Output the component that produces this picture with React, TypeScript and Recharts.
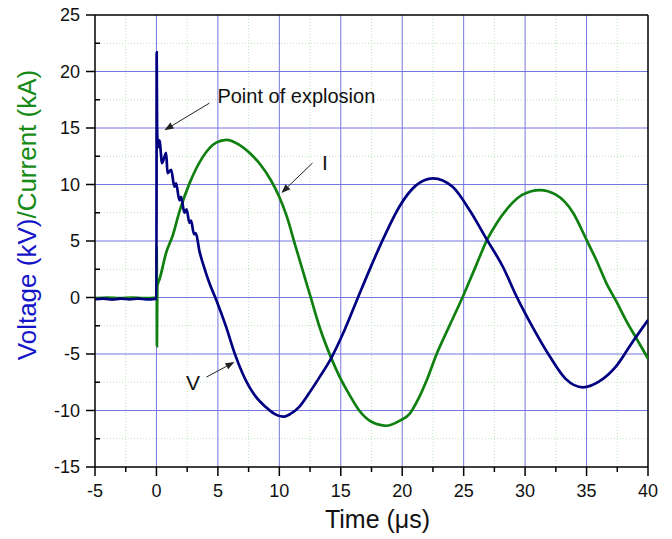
import { Line, LineChart, ReferenceDot, ReferenceLine, XAxis, YAxis } from "recharts";

// time axis (µs) and tick positions
const xTicks = [-5, -2.5, 0, 2.5, 5, 7.5, 10, 12.5, 15, 17.5, 20, 22.5, 25, 27.5, 30, 32.5, 35, 37.5, 40];
const yTicks = [-15, -12.5, -10, -7.5, -5, -2.5, 0, 2.5, 5, 7.5, 10, 12.5, 15, 17.5, 20, 22.5, 25];

// voltage trace (kV)
const vTime = [
  -5, -4.3, -3.6, -2.9, -2.2, -1.5, -0.8, -0.1, 0, 0.02, 0.05, 0.12, 0.24, 0.46, 0.79, 0.9, 1.2, 1.46, 1.6, 1.87, 2.0,
  2.28, 2.45, 2.69, 2.82, 3.05, 3.2, 3.5, 3.9, 4.3, 4.86, 5.67, 6.35, 7.0, 7.5, 8.1, 8.9, 9.6, 10.3, 10.9, 11.6, 12.4,
  13.3, 14.2, 15.3, 16.4, 17.4, 18.5, 19.8, 21.1, 22.5, 24.1, 25.5, 26.9, 28.2, 29.3, 30.6, 32.0, 33.3, 34.7, 36.0,
  37.4, 38.7, 40,
];
const vVolt = [
  -0.15, -0.1, -0.18, -0.1, -0.16, -0.1, -0.17, -0.12, -0.1, 21.7, 15.2, 13.3, 13.9, 11.9, 12.8, 11.0, 11.3, 9.8, 10.1,
  8.6, 8.9, 7.5, 7.8, 6.6, 6.8, 5.6, 5.7, 4.1, 2.6, 1.3, -0.2, -2.6, -4.9, -6.7, -7.8, -8.8, -9.7, -10.3, -10.55, -10.3,
  -9.7, -8.5, -7.0, -5.4, -2.9, 0, 2.6, 5.3, 8.1, 9.9, 10.55, 9.8, 7.7, 5.1, 2.7, 0.1, -2.6, -5.2, -7.2, -7.95, -7.45,
  -6.1, -4.0, -2.0,
];

// current trace (kA)
const iTime = [
  -5, -4, -3, -2, -1, 0, 0.02, 0.04, 0.07, 0.25, 0.8, 1.33, 1.87, 2.69, 3.75, 4.86, 5.7, 6.75, 7.57, 8.5, 9.3, 10.0,
  10.6, 11.3, 12.2, 12.5, 13.3, 14.2, 14.9, 15.7, 16.5, 17.5, 18.7, 19.8, 20.6, 21.3, 22.0, 22.8, 23.8, 24.9, 26.0,
  26.9, 27.7, 28.5, 29.8, 31.2, 32.5, 33.9, 35.0, 35.8, 36.6, 37.4, 38.2, 39.1, 40,
];
const iCurrent = [
  -0.05, 0, -0.05, 0, -0.05, 0, 4.5, -4.3, 1.0, 1.6, 4.0, 5.5, 7.6, 10.1, 12.4, 13.7, 13.95, 13.5, 12.8, 11.7, 10.4,
  8.9, 7.2, 4.6, 1.3, 0.2, -2.7, -5.3, -7.0, -8.6, -10.0, -11.0, -11.35, -10.9, -10.3, -9.0, -7.3, -5.0, -2.6, 0, 2.8,
  5.1, 6.6, 7.8, 9.1, 9.5, 9.1, 7.5, 5.1, 3.3, 1.3, -0.3, -2.0, -3.7, -5.4,
];

const voltageData = vTime.map((t, i) => ({ t, v: vVolt[i] }));
const currentData = iTime.map((t, i) => ({ t, c: iCurrent[i] }));

const isMajor = (v: number) => v % 5 === 0;

// annotation arrows (data coords: tail, head)
const explosionArrow = [{ x: 4.31, y: 17.2 }, { x: 0.65, y: 14.8 }];
const currentArrow = [{ x: 12.7, y: 11.9 }, { x: 10.17, y: 9.25 }];
const voltageArrow = [{ x: 4.07, y: -7.04 }, { x: 6.35, y: -5.71 }];

const FONT = '"Liberation Sans", Arial, Helvetica, sans-serif';
const VOLT_COLOR = "#000080";
const CURR_COLOR = "#0f800f";

function Arrow(props: any) {
  const { x1, y1, x2, y2 } = props;
  const a = Math.atan2(y2 - y1, x2 - x1);
  const len = 9;
  const half = 3.5;
  const bx = x2 - len * Math.cos(a);
  const by = y2 - len * Math.sin(a);
  const px = half * Math.sin(a);
  const py = -half * Math.cos(a);
  return (
    <g>
      <line x1={x1} y1={y1} x2={bx} y2={by} stroke="#222" strokeWidth={1} />
      <polygon points={`${x2},${y2} ${bx + px},${by + py} ${bx - px},${by - py}`} fill="#222" />
    </g>
  );
}

function XTick(props: any) {
  const { x, y, payload } = props;
  const major = isMajor(payload.value);
  return (
    <g>
      <line x1={x} x2={x} y1={y} y2={y + (major ? 9 : 5)} stroke="#000" strokeWidth={1.5} />
      {major && (
        <text x={x} y={y + 30} textAnchor="middle" fontFamily={FONT} fontSize={18} fill="#111">
          {payload.value}
        </text>
      )}
    </g>
  );
}

function YTick(props: any) {
  const { x, y, payload } = props;
  const major = isMajor(payload.value);
  return (
    <g>
      <line x1={x} x2={major ? x - 9 : x + 5} y1={y} y2={y} stroke="#000" strokeWidth={1.5} />
      {major && (
        <text x={x - 15} y={y} dy="0.35em" textAnchor="end" fontFamily={FONT} fontSize={18} fill="#111">
          {payload.value}
        </text>
      )}
    </g>
  );
}

function YTitle(props: any) {
  const vb = props.viewBox ?? { x: 0, y: 15, width: 95, height: 452 };
  const cx = 36;
  const cy = vb.y + vb.height / 2 - 26;
  return (
    <text
      x={cx}
      y={cy}
      textAnchor="middle"
      fontFamily={FONT}
      fontSize={26}
      transform={`rotate(-90, ${cx}, ${cy})`}
    >
      <tspan fill="#1515c8">Voltage (kV)</tspan>
      <tspan fill="#158a15">/Current (kA)</tspan>
    </text>
  );
}

function XTitle(props: any) {
  const vb = props.viewBox ?? { x: 95, y: 467, width: 553, height: 72 };
  return (
    <text x={vb.x + vb.width / 2 + 6} y={vb.y + 61} textAnchor="middle" fontFamily={FONT} fontSize={25} fill="#111">
      Time (μs)
    </text>
  );
}

function TextMark(label: string, anchor: "start" | "middle", size: number) {
  return (props: any) => (
    <text x={props.cx} y={props.cy} textAnchor={anchor} fontFamily={FONT} fontSize={size} fill="#111">
      {label}
    </text>
  );
}

export default function App() {
  return (
    <div style={{ position: "absolute", left: 0, top: 0, background: "#fff" }}>
      <LineChart width={672} height={539} margin={{ top: 15, right: 24, bottom: 0, left: 0 }}>
        {xTicks.filter((t) => !isMajor(t)).map((t) => (
          <ReferenceLine key={`xm${t}`} x={t} stroke="#bfe3bf" strokeDasharray="1 2" />
        ))}
        {yTicks.filter((t) => !isMajor(t)).map((t) => (
          <ReferenceLine key={`ym${t}`} y={t} stroke="#bfe3bf" strokeDasharray="1 2" />
        ))}
        {xTicks.filter((t) => isMajor(t) && t > -5 && t < 40).map((t) => (
          <ReferenceLine key={`xM${t}`} x={t} stroke="#7777e0" strokeWidth={1} />
        ))}
        {yTicks.filter((t) => isMajor(t) && t > -15 && t < 25).map((t) => (
          <ReferenceLine key={`yM${t}`} y={t} stroke="#7777e0" strokeWidth={1} />
        ))}
        <ReferenceLine y={25} stroke="#000" strokeWidth={1.5} />
        <ReferenceLine x={40} stroke="#000" strokeWidth={1.5} />
        <XAxis
          type="number"
          dataKey="t"
          domain={[-5, 40]}
          ticks={xTicks}
          interval={0}
          allowDataOverflow
          height={72}
          tickSize={0}
          tickMargin={0}
          tickLine={false}
          axisLine={{ stroke: "#000", strokeWidth: 1.5 }}
          tick={<XTick />}
          label={<XTitle />}
        />
        <YAxis
          type="number"
          domain={[-15, 25]}
          ticks={yTicks}
          interval={0}
          allowDataOverflow
          width={95}
          tickSize={0}
          tickMargin={0}
          tickLine={false}
          axisLine={{ stroke: "#000", strokeWidth: 1.5 }}
          tick={<YTick />}
          label={<YTitle />}
        />
        <Line
          data={currentData}
          dataKey="c"
          type="monotone"
          stroke={CURR_COLOR}
          strokeWidth={2.7}
          dot={false}
          isAnimationActive={false}
        />
        <Line
          data={voltageData}
          dataKey="v"
          type="monotone"
          stroke={VOLT_COLOR}
          strokeWidth={2.7}
          dot={false}
          isAnimationActive={false}
        />
        <ReferenceLine segment={explosionArrow} shape={Arrow} />
        <ReferenceLine segment={currentArrow} shape={Arrow} />
        <ReferenceLine segment={voltageArrow} shape={Arrow} />
        <ReferenceDot x={4.96} y={17.2} r={0} shape={TextMark("Point of explosion", "start", 20)} />
        <ReferenceDot x={13.7} y={11.28} r={0} shape={TextMark("I", "middle", 21)} />
        <ReferenceDot x={2.97} y={-8.19} r={0} shape={TextMark("V", "middle", 21)} />
      </LineChart>
    </div>
  );
}
